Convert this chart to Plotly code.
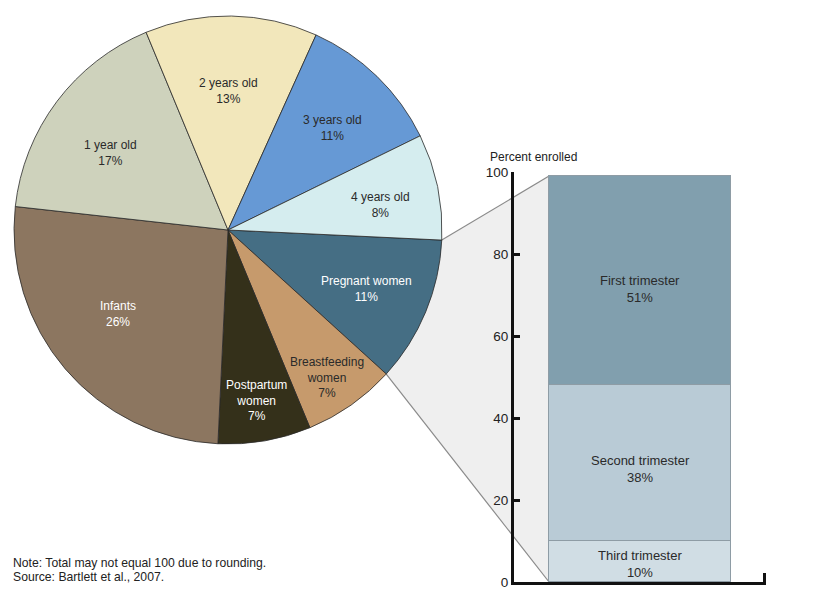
import math
import plotly.graph_objects as go

# ---------------- data ----------------
pie_labels = ["Pregnant women", "Breastfeeding women", "Postpartum women", "Infants",
              "1 year old", "2 years old", "3 years old", "4 years old"]
pie_text = ["Pregnant women", "Breastfeeding<br>women", "Postpartum<br>women", "Infants",
            "1 year old", "2 years old", "3 years old", "4 years old"]
pie_values = [11, 7, 7, 26, 17, 13, 11, 8]

bar_labels = ["Third trimester", "Second trimester", "First trimester"]
bar_values = [10, 38, 51]
y_ticks = [0, 20, 40, 60, 80, 100]

# ---------------- style ----------------
W, H = 814, 606
OFF = 8  # page body margin in the rendered screenshot
pie_colors = ["#456e84", "#c69a6c", "#34301a", "#8c7660",
              "#ced2bc", "#f2e7bb", "#6699d5", "#d5edef"]
pie_text_colors = ["white", "#2a2a2a", "white", "white",
                   "#2a2a2a", "#2a2a2a", "#2a2a2a", "#2a2a2a"]
label_rfrac = [0.705, 0.831, 0.806, 0.648, 0.658, 0.650, 0.684, 0.723]
label_dtheta = [0.7, 1.4, 0.3, 3.0, -3.8, -0.6, 1.7, 2.4]
bar_colors = ["#d0dde4", "#b9cbd6", "#819fae"]
bar_text_shift = [-2, -6, -8]
rotation = 92.7

cx_px, cy_px, r_px = 228, 230, 214   # screen pixels


def to_paper(px, py):
    return (px - OFF) / W, 1 - (py - OFF) / H


pie_dom_x = [to_paper(cx_px - r_px, 0)[0], to_paper(cx_px + r_px, 0)[0]]
pie_dom_y = [to_paper(0, cy_px + r_px)[1], to_paper(0, cy_px - r_px)[1]]

ax_x_dom = [to_paper(514, 0)[0], to_paper(766, 0)[0]]
ax_y_dom = [to_paper(0, 582)[1], to_paper(0, 172)[1]]
x_range = [0, 1]
y_range = [0, 100]
bar_x = 0.5
bar_w = 0.722

FONT = "Liberation Sans, Arial, sans-serif"

fig = go.Figure()

# connection polygon (computed from data)
total = sum(pie_values)


def pie_point(angle_deg):
    a = math.radians(angle_deg)
    return (cx_px + r_px * math.sin(a), cy_px - r_px * math.cos(a))


a0 = rotation
a1 = rotation + pie_values[0] / total * 360
P1 = to_paper(*pie_point(a0))
P2 = to_paper(*pie_point(a1))


def ax_to_paper(x, y):
    px = ax_x_dom[0] + (x - x_range[0]) / (x_range[1] - x_range[0]) * (ax_x_dom[1] - ax_x_dom[0])
    py = ax_y_dom[0] + (y - y_range[0]) / (y_range[1] - y_range[0]) * (ax_y_dom[1] - ax_y_dom[0])
    return px, py


bar_left = bar_x - bar_w / 2
bt = ax_to_paper(bar_left, sum(bar_values))
bb = ax_to_paper(bar_left, 0)

path = f"M {P1[0]},{P1[1]} L {bt[0]},{bt[1]} L {bb[0]},{bb[1]} L {P2[0]},{P2[1]} Z"
shapes = [
    dict(type="path", xref="paper", yref="paper", path=path,
         fillcolor="#efefef", line=dict(width=0), layer="below"),
    dict(type="line", xref="paper", yref="paper", x0=P1[0], y0=P1[1], x1=bt[0], y1=bt[1],
         line=dict(color="#8a8a8a", width=1.2), layer="below"),
    dict(type="line", xref="paper", yref="paper", x0=P2[0], y0=P2[1], x1=bb[0], y1=bb[1],
         line=dict(color="#8a8a8a", width=1.2), layer="below"),
]

fig.add_trace(go.Pie(
    labels=pie_labels, values=pie_values, sort=False, direction="clockwise",
    rotation=rotation, textinfo="none", hoverinfo="label+percent",
    marker=dict(colors=pie_colors, line=dict(color="#2a2a2a", width=0.8)),
    domain=dict(x=pie_dom_x, y=pie_dom_y), showlegend=False,
))

annotations = []
cum = 0
for txt, v, col, rf, dt in zip(pie_text, pie_values, pie_text_colors, label_rfrac, label_dtheta):
    mid = rotation + (cum + v / 2) / total * 360 + dt
    cum += v
    a = math.radians(mid)
    px = cx_px + rf * r_px * math.sin(a)
    py = cy_px - rf * r_px * math.cos(a)
    xp, yp = to_paper(px, py)
    annotations.append(dict(x=xp, y=yp, xref="paper", yref="paper", showarrow=False,
                            text=f"{txt}<br>{v}%", font=dict(size=12, color=col, family=FONT),
                            align="center", xanchor="center", yanchor="middle"))

base = 0
for lab, v, col, sh in zip(bar_labels, bar_values, bar_colors, bar_text_shift):
    fig.add_trace(go.Bar(
        x=[bar_x], y=[v], width=bar_w, marker=dict(color=col, line=dict(color="#8e9ca5", width=1)),
        textposition="none", showlegend=False,
        hoverinfo="text", hovertext=[f"{lab}: {v}%"],
    ))
    annotations.append(dict(x=bar_x, y=base + v / 2, xref="x", yref="y", showarrow=False,
                            yshift=sh, text=f"{lab}<br>{v}%", align="center",
                            xanchor="center", yanchor="middle",
                            font=dict(size=13, color="#2a2a2a", family=FONT)))
    base += v

pe = to_paper(488, 157)
annotations.append(dict(x=pe[0], y=pe[1], xref="paper", yref="paper", showarrow=False,
                        text="Percent enrolled", xanchor="left", yanchor="middle",
                        font=dict(size=12, color="#222", family=FONT)))
for i, line in enumerate(["Note: Total may not equal 100 due to rounding.",
                          "Source: Bartlett et al., 2007."]):
    nt = to_paper(11, 563 + 14 * i)
    annotations.append(dict(x=nt[0], y=nt[1], xref="paper", yref="paper", showarrow=False,
                            text=line, xanchor="left", yanchor="middle", align="left",
                            font=dict(size=12.2, color="#222", family=FONT)))

fig.update_layout(
    template="none",
    width=W, height=H, margin=dict(l=0, r=0, t=0, b=0, pad=0, autoexpand=False),
    paper_bgcolor="white", plot_bgcolor="rgba(0,0,0,0)",
    barmode="stack", bargap=0, showlegend=False,
    font=dict(family=FONT, size=12, color="#222"),
    xaxis=dict(domain=ax_x_dom, range=x_range, showline=True, linewidth=3, linecolor="#111",
               tickvals=[x_range[1] - 0.004], ticks="inside", ticklen=9, tickwidth=3,
               tickcolor="#111", showticklabels=False, showgrid=False, zeroline=False,
               fixedrange=True, automargin=False),
    yaxis=dict(domain=ax_y_dom, range=y_range, showline=True, linewidth=3, linecolor="#111",
               tickvals=y_ticks, ticks="inside", ticklen=6, tickwidth=3, tickcolor="#111",
               tickfont=dict(size=13.5, color="#222"), showgrid=False, zeroline=False,
               fixedrange=True, automargin=False),
    shapes=shapes, annotations=annotations,
)

fig.write_html("out.html")
